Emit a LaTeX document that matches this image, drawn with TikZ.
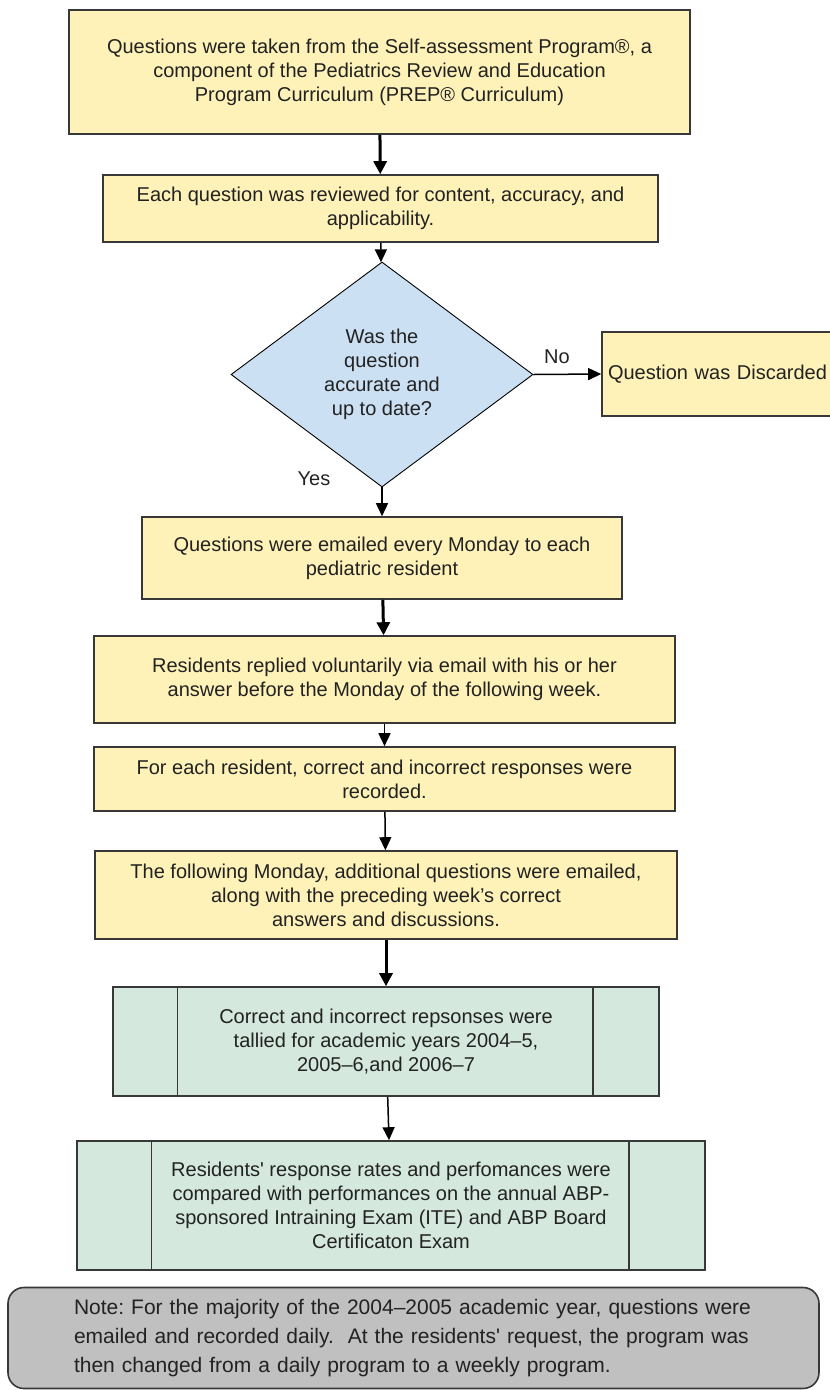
\documentclass[tikz,border=0pt]{standalone}
\usepackage{fontspec}
\setmainfont{Liberation Sans}
\usetikzlibrary{shapes.geometric,arrows.meta}
\definecolor{boxyellow}{HTML}{FEF2B8}
\definecolor{boxblue}{HTML}{CCE0F3}
\definecolor{boxgreen}{HTML}{D4E8DD}
\definecolor{notegray}{HTML}{C0C0C0}
\definecolor{edge}{HTML}{383838}
\definecolor{txt}{HTML}{222222}
\frenchspacing
\begin{document}
\begin{tikzpicture}[x=1pt,y=-1pt,
  every node/.style={font=\fontsize{20}{24}\selectfont, text=txt},
  ybox/.style={draw=edge, line width=1.6pt, fill=boxyellow, align=center, inner sep=0pt},
  gbox/.style={draw=edge, line width=1.6pt, fill=boxgreen, align=center, inner sep=0pt},
  dec/.style={diamond, draw=black, line width=0.9pt, fill=boxblue, align=center, inner sep=0pt, aspect=1.34},
  thinarr/.style={draw=black, line width=1.5pt, -{Triangle[length=13pt,width=12pt]}},
  thickarr/.style={draw=black, line width=3pt, -{Triangle[length=13pt,width=13pt]}},
  lbl/.style={inner sep=0pt}
]
\useasboundingbox (0,0) rectangle (830,1390);

\node[ybox, minimum width=621pt, minimum height=124pt] (b1) at (379.5,72)
  {Questions were taken from the Self-assessment Program®, a\\component of the Pediatrics Review and Education\\Program Curriculum (PREP® Curriculum)};
\node[ybox, minimum width=555pt, minimum height=67pt] (b2) at (380.5,208.5)
  {Each question was reviewed for content, accuracy, and\\applicability.};
\node[dec, minimum width=302pt, minimum height=225pt] (d) at (382,374.5)
  {Was the\\question\\accurate and\\up to date?};
\node[ybox, text width=226pt, inner xsep=6pt, align=left, minimum height=84pt] (disc) at (721,374)
  {Question was Discarded};
\node[ybox, minimum width=480pt, minimum height=82pt] (b3) at (382,558)
  {Questions were emailed every Monday to each\\pediatric resident};
\node[ybox, minimum width=581pt, minimum height=87pt] (b4) at (384.5,679.5)
  {Residents replied voluntarily via email with his or her\\answer before the Monday of the following week.};
\node[ybox, minimum width=581pt, minimum height=64pt] (b5) at (384.5,779)
  {For each resident, correct and incorrect responses were\\recorded.};
\node[ybox, minimum width=582pt, minimum height=88pt] (b6) at (386,895)
  {The following Monday, additional questions were emailed,\\along with the preceding week’s correct\\answers and discussions.};
\node[gbox, minimum width=546pt, minimum height=109pt] (b7) at (386,1041.5)
  {Correct and incorrect repsonses were\\tallied for academic years 2004–5,\\2005–6,and 2006–7};
\draw[edge, line width=1.4pt] ([xshift=65pt]b7.north west) -- ([xshift=65pt]b7.south west);
\draw[edge, line width=1.4pt] ([xshift=-67pt]b7.north east) -- ([xshift=-67pt]b7.south east);
\node[gbox, minimum width=628pt, minimum height=129pt] (b8) at (391,1205.5)
  {Residents\textquotesingle{} response rates and perfomances were\\compared with performances on the annual ABP-\\sponsored Intraining Exam (ITE) and ABP Board\\Certificaton Exam};
\draw[edge, line width=1.4pt] ([xshift=75pt]b8.north west) -- ([xshift=75pt]b8.south west);
\draw[edge, line width=1.4pt] ([xshift=-77pt]b8.north east) -- ([xshift=-77pt]b8.south east);
\node[draw=edge, line width=1.6pt, fill=notegray, rounded corners=16pt, minimum width=811pt, minimum height=101pt,
  text width=679pt, align=left, inner sep=0pt, font=\fontsize{21}{29}\selectfont] (note) at (413.5,1338)
  {Note: For the majority of the 2004–2005 academic year, questions were\\emailed and recorded daily.\ \ At the residents\textquotesingle{} request, the program was\\then changed from a daily program to a weekly program.};

\draw[thickarr] (b1) -- (b2);
\draw[thinarr] (b2) -- (d);
\draw[thinarr] (d.east) -- (disc.west);
\node[lbl] (no) at (557,357) {No};
\draw[thinarr] (d.south) -- (b3.north -| d.south);
\node[lbl] (yes) at (314,479) {Yes};
\draw[thickarr] (b3) -- (b4);
\draw[thinarr] (b4) -- (b5);
\draw[thinarr] (b5) -- (b6);
\draw[thickarr] (b6) -- (b7);
\draw[thinarr] (b7) -- (b8);
\end{tikzpicture}
\end{document}
